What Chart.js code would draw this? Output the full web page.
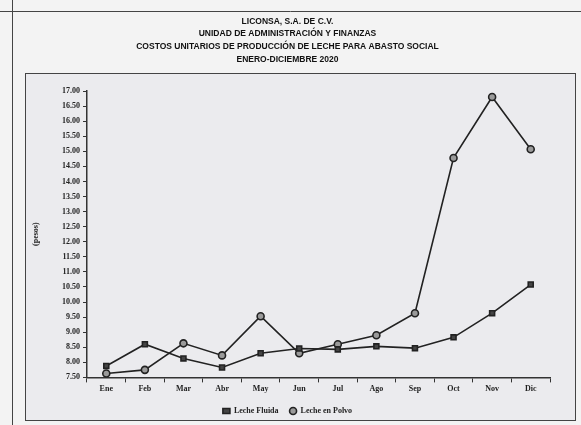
<!DOCTYPE html>
<html>
<head>
<meta charset="utf-8">
<script src="https://cdn.jsdelivr.net/npm/chart.js@4.4.1/dist/chart.umd.min.js"></script>
<style>
  html, body { margin: 0; padding: 0; background: #f3f3f3; }
  #wrap { width: 581px; height: 425px; }
</style>
</head>
<body>
<div id="wrap"><canvas id="chart" width="581" height="425"></canvas></div>
<script>
const meses = ['Ene', 'Feb', 'Mar', 'Abr', 'May', 'Jun', 'Jul', 'Ago', 'Sep', 'Oct', 'Nov', 'Dic'];
const lecheFluida = [7.88, 8.60, 8.13, 7.83, 8.30, 8.46, 8.43, 8.53, 8.47, 8.83, 9.63, 10.58];
const lechePolvo = [7.63, 7.75, 8.63, 8.23, 9.53, 8.30, 8.60, 8.90, 9.63, 14.78, 16.80, 15.07];
const titulo = [
    'LICONSA, S.A. DE C.V.',
    'UNIDAD DE ADMINISTRACIÓN Y FINANZAS',
    'COSTOS UNITARIOS DE PRODUCCIÓN DE LECHE PARA ABASTO SOCIAL',
    'ENERO-DICIEMBRE 2020'
];

// paper frame and shaded box behind the chart
const marco = {
    id: 'marco',
    beforeDraw(chart) {
        const ctx = chart.ctx;
        ctx.save();
        ctx.fillStyle = '#f3f3f3';
        ctx.fillRect(0, 0, chart.width, chart.height);
        ctx.fillStyle = '#ebebee';
        ctx.fillRect(25, 73, 550, 347);
        ctx.strokeStyle = '#444';
        ctx.lineWidth = 1;
        ctx.strokeRect(25.5, 73.5, 550, 347);
        ctx.beginPath();
        ctx.moveTo(0, 11.5); ctx.lineTo(chart.width, 11.5);
        ctx.moveTo(12.5, 0); ctx.lineTo(12.5, chart.height);
        ctx.stroke();
        ctx.restore();
    }
};

const ctx = document.getElementById('chart').getContext('2d');
new Chart(ctx, {
    type: 'line',
    data: {
        labels: meses,
        datasets: [
            {
                label: 'Leche Fluida',
                data: lecheFluida,
                borderColor: '#222',
                backgroundColor: '#333',
                borderWidth: 1.6,
                pointStyle: 'rect',
                pointRadius: 3.5,
                pointBorderColor: '#222',
                pointBackgroundColor: '#444',
                tension: 0
            },
            {
                label: 'Leche en Polvo',
                data: lechePolvo,
                borderColor: '#222',
                backgroundColor: '#999',
                borderWidth: 1.6,
                pointStyle: 'circle',
                pointRadius: 3.5,
                pointBorderColor: '#222',
                pointBackgroundColor: '#9a9a9a',
                tension: 0
            }
        ]
    },
    options: {
        responsive: false,
        animation: false,
        layout: { padding: { left: 25, right: 31, top: 0, bottom: 0 } },
        plugins: {
            title: {
                display: true,
                text: titulo,
                color: '#111',
                font: { family: 'Liberation Sans', size: 8.5, weight: 'bold', lineHeight: 1.5 },
                padding: { top: 15, bottom: 25 }
            },
            legend: {
                position: 'bottom',
                labels: {
                    usePointStyle: true,
                    pointStyleWidth: 7,
                    boxHeight: 5,
                    padding: 11,
                    color: '#222',
                    font: { family: 'Liberation Serif', size: 8, weight: 'bold' }
                }
            },
            tooltip: { enabled: false }
        },
        scales: {
            x: {
                offset: true,
                grid: { drawOnChartArea: false, color: '#333', tickLength: 5, offset: true },
                border: { color: '#333', width: 1.5 },
                ticks: { color: '#222', padding: 2, font: { family: 'Liberation Serif', size: 8, weight: 'bold' } }
            },
            y: {
                min: 7.5,
                max: 17,
                afterFit(scale) { scale.width = 62; },
                grid: { drawOnChartArea: false, color: '#333', tickLength: 4 },
                border: { color: '#333', width: 1.5 },
                ticks: {
                    stepSize: 0.5,
                    color: '#222',
                    padding: 3,
                    font: { family: 'Liberation Serif', size: 8, weight: 'bold' },
                    callback: v => v.toFixed(2)
                },
                title: {
                    display: true,
                    text: '(pesos)',
                    color: '#222',
                    padding: { top: 6, bottom: 0 },
                    font: { family: 'Liberation Serif', size: 8, weight: 'bold' }
                }
            }
        }
    },
    plugins: [marco]
});
</script>
</body>
</html>
